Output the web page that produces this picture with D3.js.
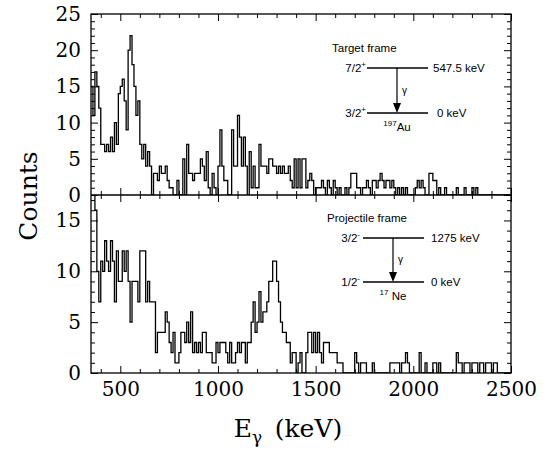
<!DOCTYPE html>
<html>
<head>
<meta charset="utf-8">
<script src="https://cdn.jsdelivr.net/npm/d3@7"></script>
<style>
  body { margin: 0; background: #fff; }
  svg { display: block; }
  .tick text { font-family: "DejaVu Serif", serif; font-size: 20px; fill: #000; }
  .inset text { font-family: "Liberation Sans", Arial, sans-serif; font-size: 11.5px; fill: #000; }
</style>
</head>
<body>
<svg id="chart" width="549" height="451"></svg>
<script>
// 10 keV bins starting at 350 keV
var binStart = 350, binWidth = 10;

// counts per bin, target frame (197Au, upper panel)
var targetCounts = [
  15,11,17,15,12,7,7,6,7,6,
  8,6,10,7,14,15,16,13,9,20,
  22,18,15,11,13,7,5,7,4,6,
  4,0,3,3,2,4,3,3,4,2,
  1,1,0,0,2,0,0,5,0,7,
  3,3,2,3,3,3,5,4,2,6,
  1,0,3,1,0,4,9,4,2,2,
  0,0,9,4,4,11,8,4,8,4,
  0,6,1,4,1,1,7,4,4,4,
  3,5,5,4,4,3,4,3,4,3,
  3,4,2,1,5,1,5,1,5,5,
  1,2,3,2,0,1,1,1,2,1,
  0,2,1,0,2,1,0,1,0,0,
  1,0,1,3,3,3,1,1,0,1,
  1,2,1,0,2,2,1,2,3,2,
  1,2,2,1,2,1,0,1,0,1,
  0,1,0,0,0,0,1,2,1,2,
  1,0,0,3,3,2,2,0,1,0,
  0,1,0,0,0,0,0,1,0,0,
  0,1,0,0,0,1,0,1,0,0,
  0,0,0,0,0,0,0,0,0,0,
  0,0,0,0,0
];

// counts per bin, projectile frame (17Ne, lower panel)
var projectileCounts = [
  18,18,16,10,7,11,10,13,11,10,
  13,11,7,12,9,9,12,10,12,9,
  5,9,9,9,7,12,12,12,7,9,
  7,7,7,2,4,4,4,4,6,5,
  3,2,4,1,1,2,4,4,3,5,
  3,6,2,3,2,3,2,4,4,2,
  2,2,1,1,3,2,3,3,3,2,
  1,3,1,1,2,3,2,3,3,1,
  3,3,5,7,4,5,8,5,6,6,
  7,9,9,11,11,9,7,5,4,4,
  3,3,1,2,2,0,1,2,0,0,
  2,4,4,2,4,2,4,2,1,3,
  3,3,2,2,2,2,1,1,1,0,
  0,0,0,0,0,2,1,0,1,1,
  1,0,0,0,1,0,0,0,0,0,
  0,0,0,1,1,1,1,1,0,1,
  1,2,1,0,0,0,0,0,2,0,
  0,1,0,0,0,1,1,0,1,0,
  0,0,0,0,0,0,0,2,1,1,
  0,1,1,1,0,1,1,1,0,1,
  1,0,1,1,1,0,1,1,0,0,
  0,0,0,0,0
];

var xMajorTicks = [500, 1000, 1500, 2000, 2500];
var xMinorTicks = [400, 600, 700, 800, 900, 1100, 1200, 1300, 1400, 1600, 1700, 1800, 1900,
                   2100, 2200, 2300, 2400];
var yTopTicks = [0, 5, 10, 15, 20, 25];
var yBotTicks = [0, 5, 10, 15];

var svg = d3.select('#chart');

var pLeft = 91, pRight = 511, pTop = 14, pMid = 195, pBottom = 373;

var x = d3.scaleLinear().domain([350, 2500]).range([pLeft, pRight]);
var yTop = d3.scaleLinear().domain([0, 25]).range([pMid, pTop]);
var yBot = d3.scaleLinear().domain([0, 17.5]).range([pBottom, pMid]);

function minorRange(max) {
    var r = [];
    for (var i = 1; i < max; i++) if (i % 5) r.push(i);
    return r;
}

// clip regions for each panel
var defs = svg.append('defs');
defs.append('clipPath').attr('id', 'clipTop').append('rect')
    .attr('x', pLeft).attr('y', pTop).attr('width', pRight - pLeft).attr('height', pMid - pTop);
defs.append('clipPath').attr('id', 'clipBot').append('rect')
    .attr('x', pLeft).attr('y', pMid).attr('width', pRight - pLeft).attr('height', pBottom - pMid);

function drawHist(counts, y, clip) {
    var pts = counts.map(function(c, i) { return [binStart + i * binWidth, c]; });
    pts.push([binStart + counts.length * binWidth, counts[counts.length - 1]]);
    var line = d3.line()
        .x(function(d) { return x(d[0]); })
        .y(function(d) { return y(d[1]); })
        .curve(d3.curveStepAfter);
    svg.append('path')
        .datum(pts)
        .attr('clip-path', 'url(#' + clip + ')')
        .attr('d', line)
        .attr('fill', 'none')
        .attr('stroke', '#000')
        .attr('stroke-width', 1.3);
}

drawHist(targetCounts, yTop, 'clipTop');
drawHist(projectileCounts, yBot, 'clipBot');

function addAxis(gen, tx, ty) {
    var g = svg.append('g')
        .attr('transform', 'translate(' + tx + ',' + ty + ')')
        .call(gen);
    g.select('.domain').remove();
    g.selectAll('.tick line').attr('stroke', '#000').attr('stroke-width', 1);
    return g;
}

// x axes: bottom (labels), separator both sides, top
addAxis(d3.axisBottom(x).tickValues(xMajorTicks).tickSize(-7).tickPadding(9)
    .tickFormat(d3.format('d')), 0, pBottom);
addAxis(d3.axisBottom(x).tickValues(xMinorTicks).tickSize(-4).tickFormat(''), 0, pBottom);
addAxis(d3.axisBottom(x).tickValues(xMajorTicks).tickSize(-7).tickFormat(''), 0, pMid);
addAxis(d3.axisBottom(x).tickValues(xMinorTicks).tickSize(-4).tickFormat(''), 0, pMid);
addAxis(d3.axisTop(x).tickValues(xMajorTicks).tickSize(-7).tickFormat(''), 0, pMid);
addAxis(d3.axisTop(x).tickValues(xMinorTicks).tickSize(-4).tickFormat(''), 0, pMid);
addAxis(d3.axisTop(x).tickValues(xMajorTicks).tickSize(-7).tickFormat(''), 0, pTop);
addAxis(d3.axisTop(x).tickValues(xMinorTicks).tickSize(-4).tickFormat(''), 0, pTop);

// y axes, both panels, left (labels) and right
[[yTop, yTopTicks, 25], [yBot, yBotTicks, 17.5]].forEach(function(p) {
    var y = p[0], ticks = p[1], minor = minorRange(p[2]);
    addAxis(d3.axisLeft(y).tickValues(ticks).tickSize(-7).tickPadding(10)
        .tickFormat(d3.format('d')), pLeft, 0);
    addAxis(d3.axisLeft(y).tickValues(minor).tickSize(-4).tickFormat(''), pLeft, 0);
    addAxis(d3.axisRight(y).tickValues(ticks).tickSize(-7).tickFormat(''), pRight, 0);
    addAxis(d3.axisRight(y).tickValues(minor).tickSize(-4).tickFormat(''), pRight, 0);
});

// frame and separator
svg.append('rect')
    .attr('x', pLeft).attr('y', pTop)
    .attr('width', pRight - pLeft).attr('height', pBottom - pTop)
    .attr('fill', 'none').attr('stroke', '#000').attr('stroke-width', 1.3);
svg.append('line')
    .attr('x1', pLeft).attr('x2', pRight).attr('y1', pMid).attr('y2', pMid)
    .attr('stroke', '#000').attr('stroke-width', 1.3);

// axis titles
svg.append('text')
    .attr('transform', 'translate(37,' + 196 + ') rotate(-90)')
    .attr('text-anchor', 'middle')
    .style('font-family', '"DejaVu Serif", serif')
    .style('font-size', '25px')
    .text('Counts');

var xt = svg.append('text')
    .attr('x', 288).attr('y', 437)
    .attr('text-anchor', 'middle')
    .style('font-family', '"DejaVu Serif", serif')
    .style('font-size', '25px');
xt.append('tspan').text('E');
xt.append('tspan').attr('dy', 6).style('font-size', '17px').text('γ');
xt.append('tspan').attr('dy', -6).text('\u2002(keV)');

// level scheme insets
function inset(cfg) {
    var g = svg.append('g').attr('class', 'inset');
    g.append('text').attr('x', cfg.titleX).attr('y', cfg.titleY).text(cfg.title);
    cfg.levels.forEach(function(lv) {
        g.append('line')
            .attr('x1', cfg.x1).attr('x2', cfg.x2).attr('y1', lv.y).attr('y2', lv.y)
            .attr('stroke', '#000').attr('stroke-width', 1.4);
        var t = g.append('text').attr('x', cfg.x1 - cfg.gap).attr('y', lv.y + 4)
            .attr('text-anchor', 'end');
        t.append('tspan').text(lv.spin);
        t.append('tspan').attr('dy', -5).style('font-size', '8px').text(lv.parity);
        g.append('text').attr('x', cfg.x2 + lv.ex).attr('y', lv.y + 4).text(lv.energy);
    });
    var y0 = cfg.levels[0].y, y1 = cfg.levels[1].y;
    g.append('line')
        .attr('x1', cfg.ax).attr('x2', cfg.ax).attr('y1', y0).attr('y2', y1 - 8)
        .attr('stroke', '#000').attr('stroke-width', 1.2);
    g.append('path')
        .attr('d', 'M' + (cfg.ax - 4) + ',' + (y1 - 10) + 'L' + (cfg.ax + 4) + ',' + (y1 - 10) +
              'L' + cfg.ax + ',' + y1 + 'Z')
        .attr('fill', '#000');
    g.append('text').attr('x', cfg.ax + 5).attr('y', (y0 + y1) / 2 + 3)
        .style('font-size', '10px').text('γ');
    var n = g.append('text').attr('x', cfg.ax).attr('y', y1 + 18).attr('text-anchor', 'middle');
    n.append('tspan').attr('dy', -5).style('font-size', '8px').text(cfg.mass);
    n.append('tspan').attr('dy', 5).text(cfg.nucleus);
}

inset({
    title: 'Target frame', titleX: 332, titleY: 52,
    x1: 367, x2: 428, gap: 1, ax: 397,
    mass: '197', nucleus: 'Au',
    levels: [
        { y: 68, spin: '7/2', parity: '+', energy: '547.5 keV', ex: 5 },
        { y: 113, spin: '3/2', parity: '+', energy: '0 keV', ex: 9 }
    ]
});

inset({
    title: 'Projectile frame', titleX: 327, titleY: 222,
    x1: 363, x2: 424, gap: 3, ax: 393,
    mass: '17', nucleus: ' Ne',
    levels: [
        { y: 238, spin: '3/2', parity: '-', energy: '1275 keV', ex: 7 },
        { y: 282, spin: '1/2', parity: '-', energy: '0 keV', ex: 7 }
    ]
});
</script>
</body>
</html>
